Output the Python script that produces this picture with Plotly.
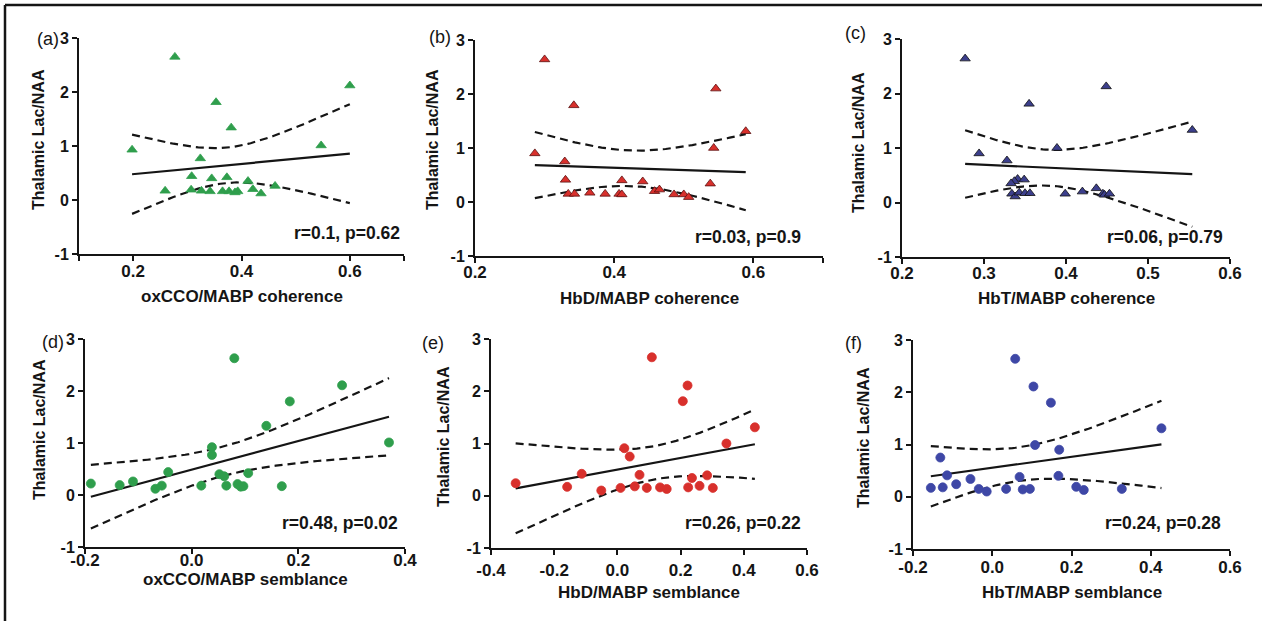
import numpy as np
import plotly.graph_objects as go

W, H = 1262, 621

# Values. y = Thalamic Lac/NAA, x = the index on each panel.
# (a) oxCCO/MABP coherence
a_x = [0.277, 0.600, 0.353, 0.381, 0.547, 0.198, 0.324, 0.308, 0.345, 0.373, 0.412,
       0.259, 0.307, 0.326, 0.342, 0.365, 0.377, 0.388, 0.393, 0.421, 0.436, 0.462]
a_y = [2.65, 2.12, 1.81, 1.34, 1.01, 0.93, 0.77, 0.44, 0.40, 0.42, 0.35,
       0.17, 0.19, 0.17, 0.16, 0.16, 0.16, 0.14, 0.16, 0.20, 0.12, 0.26]

# (b) HbD/MABP coherence
b_x = [0.300, 0.546, 0.342, 0.589, 0.543, 0.286, 0.329, 0.330, 0.411, 0.441, 0.538,
       0.334, 0.343, 0.365, 0.387, 0.407, 0.411, 0.458, 0.465, 0.486, 0.500, 0.507]
b_y = [2.64, 2.10, 1.79, 1.31, 1.00, 0.90, 0.75, 0.41, 0.40, 0.38, 0.34,
       0.15, 0.15, 0.17, 0.15, 0.15, 0.14, 0.20, 0.23, 0.14, 0.14, 0.09]

# (c) HbT/MABP coherence
c_x = [0.277, 0.449, 0.355, 0.554, 0.389, 0.294, 0.328, 0.341, 0.349, 0.337, 0.333,
       0.437, 0.420, 0.334, 0.338, 0.343, 0.350, 0.399, 0.445, 0.447, 0.453, 0.356]
c_y = [2.64, 2.13, 1.81, 1.33, 1.00, 0.90, 0.77, 0.43, 0.42, 0.39, 0.35,
       0.26, 0.20, 0.16, 0.11, 0.18, 0.17, 0.16, 0.16, 0.14, 0.16, 0.17]

# (d) oxCCO/MABP semblance
d_x = [0.080, 0.282, 0.184, 0.140, 0.370, 0.038, 0.038, -0.044, 0.106, 0.052, 0.061,
       -0.110, -0.189, -0.135, -0.056, 0.018, 0.065, 0.086, 0.092, 0.097, 0.169, -0.068]
d_y = [2.63, 2.11, 1.80, 1.33, 1.01, 0.92, 0.77, 0.44, 0.42, 0.40, 0.36,
       0.26, 0.22, 0.19, 0.18, 0.18, 0.18, 0.21, 0.16, 0.17, 0.17, 0.12]

# (e) HbD/MABP semblance
e_x = [0.109, 0.222, 0.207, 0.435, 0.345, 0.022, 0.039, -0.113, 0.070, 0.284, 0.236,
       -0.322, -0.159, -0.051, 0.010, 0.055, 0.093, 0.135, 0.156, 0.224, 0.260, 0.302]
e_y = [2.65, 2.11, 1.81, 1.31, 1.00, 0.91, 0.75, 0.42, 0.40, 0.39, 0.34,
       0.24, 0.17, 0.10, 0.15, 0.18, 0.15, 0.16, 0.13, 0.16, 0.19, 0.15]

# (f) HbT/MABP semblance
f_x = [0.058, 0.104, 0.148, 0.427, 0.108, 0.169, -0.131, -0.114, 0.069, 0.167, -0.055,
       -0.091, -0.155, -0.125, -0.034, -0.014, 0.035, 0.077, 0.095, 0.212, 0.231, 0.327]
f_y = [2.64, 2.11, 1.80, 1.31, 0.99, 0.90, 0.75, 0.41, 0.38, 0.40, 0.34,
       0.24, 0.17, 0.18, 0.15, 0.10, 0.15, 0.14, 0.15, 0.19, 0.13, 0.15]

y_ticks = [-1, 0, 1, 2, 3]
y_tick_text = ["-1", "0", "1", "2", "3"]

stats = ["r=0.1, p=0.62", "r=0.03, p=0.9", "r=0.06, p=0.79",
         "r=0.48, p=0.02", "r=0.26, p=0.22", "r=0.24, p=0.28"]
x_titles = ["oxCCO/MABP coherence", "HbD/MABP coherence", "HbT/MABP coherence",
            "oxCCO/MABP semblance", "HbD/MABP semblance", "HbT/MABP semblance"]
panel_labels = ["(a)", "(b)", "(c)", "(d)", "(e)", "(f)"]

GREEN, RED, NAVY, BLUE = "#2f9e4c", "#d8302c", "#3c3f8c", "#3e47a6"
FONT = "Liberation Sans, Arial, sans-serif"
INK = "#151515"
T_CRIT = 2.086  # t(0.975, df=20)


def px_x(p):
    return p / W


def px_y(p):
    return 1 - p / H


def bold(labels):
    return ["<b>%s</b>" % t if t else "" for t in labels]


# per panel: data, marker, axis range/ticks, pixel box (x0, x1, y_top, y_bottom),
# label pos, stats pos, title pos, x tick label standoff
panels = [
    dict(x=a_x, y=a_y, sym="triangle-up", size=9, color=GREEN, outline=GREEN,
         rng=[0.1, 0.7], tv=[0.1, 0.2, 0.4, 0.6, 0.7], tt=["", "0.2", "0.4", "0.6", ""],
         box=(79, 404, 38, 254), lab=(35, 39), st=(402, 233), xt=296, yt=(38, 140), so=-4),
    dict(x=b_x, y=b_y, sym="triangle-up", size=9, color=RED, outline="#5a1010",
         rng=[0.2, 0.7], tv=[0.2, 0.4, 0.6, 0.7], tt=["0.2", "0.4", "0.6", ""],
         box=(475, 823, 40, 256), lab=(427, 37), st=(803, 237), xt=298, yt=(432, 140), so=-5),
    dict(x=c_x, y=c_y, sym="triangle-up", size=9, color=NAVY, outline="#111111",
         rng=[0.2, 0.6], tv=[0.2, 0.3, 0.4, 0.5, 0.6], tt=["0.2", "0.3", "0.4", "0.5", "0.6"],
         box=(902, 1230, 39, 257), lab=(843, 33), st=(1225, 237), xt=298, yt=(858, 143), so=-5),
    dict(x=d_x, y=d_y, sym="circle", size=9, color=GREEN, outline=GREEN,
         rng=[-0.2, 0.4], tv=[-0.2, 0.0, 0.2, 0.4], tt=["-0.2", "0.0", "0.2", "0.4"],
         box=(85, 405, 339, 547), lab=(40, 342), st=(400, 523), xt=579, yt=(39, 430), so=-8),
    dict(x=e_x, y=e_y, sym="circle", size=9, color=RED, outline=RED,
         rng=[-0.4, 0.6], tv=[-0.4, -0.2, 0.0, 0.2, 0.4, 0.6],
         tt=["-0.4", "-0.2", "0.0", "0.2", "0.4", "0.6"],
         box=(491, 807, 339, 548), lab=(420, 343), st=(803, 523), xt=592, yt=(443, 437), so=1),
    dict(x=f_x, y=f_y, sym="circle", size=9, color=BLUE, outline=BLUE,
         rng=[-0.2, 0.6], tv=[-0.2, 0.0, 0.2, 0.4, 0.6],
         tt=["-0.2", "0.0", "0.2", "0.4", "0.6"],
         box=(913, 1230, 340, 549), lab=(843, 343), st=(1223, 523), xt=592, yt=(863, 438), so=-3),
]

fig = go.Figure()
annotations = []
layout_axes = {}

for i, p in enumerate(panels, start=1):
    sx = "" if i == 1 else str(i)
    xref, yref = "x" + sx, "y" + sx
    x = np.array(p["x"])
    y = np.array(p["y"])

    # Linear fit with 95% confidence band
    n = len(x)
    slope, intercept = np.polyfit(x, y, 1)
    resid = y - (slope * x + intercept)
    s = np.sqrt(np.sum(resid ** 2) / (n - 2))
    sxx = np.sum((x - x.mean()) ** 2)
    xs = np.linspace(x.min(), x.max(), 80)
    fit = slope * xs + intercept
    half = T_CRIT * s * np.sqrt(1 / n + (xs - x.mean()) ** 2 / sxx)

    for band in (fit + half, fit - half):
        fig.add_trace(go.Scatter(x=xs, y=band, mode="lines", xaxis=xref, yaxis=yref,
                                 line=dict(color=INK, width=2.2, dash="8px,5px"),
                                 hoverinfo="skip", showlegend=False))
    fig.add_trace(go.Scatter(x=xs, y=fit, mode="lines", xaxis=xref, yaxis=yref,
                             line=dict(color=INK, width=2.2),
                             hoverinfo="skip", showlegend=False))
    fig.add_trace(go.Scatter(x=x, y=y, mode="markers", xaxis=xref, yaxis=yref,
                             marker=dict(symbol=p["sym"], size=p["size"], color=p["color"],
                                         line=dict(color=p["outline"], width=0.8)),
                             showlegend=False))

    x0, x1, yt, yb = p["box"]
    layout_axes["xaxis" + sx] = dict(
        domain=[px_x(x0), px_x(x1)], anchor=yref, range=p["rng"],
        tickvals=p["tv"], ticktext=bold(p["tt"]), showgrid=False, zeroline=False,
        showline=True, linecolor=INK, linewidth=2, ticks="outside", ticklen=5,
        tickwidth=2, tickcolor=INK, tickfont=dict(family=FONT, size=17, color=INK),
        automargin=False, ticklabelstandoff=p["so"],
    )
    layout_axes["yaxis" + sx] = dict(
        domain=[px_y(yb), px_y(yt)], anchor=xref, range=[-1, 3],
        tickvals=y_ticks, ticktext=bold(y_tick_text), showgrid=False, zeroline=False,
        showline=True, linecolor=INK, linewidth=2, ticks="outside", ticklen=5,
        tickwidth=2, tickcolor=INK, tickfont=dict(family=FONT, size=16, color=INK),
        automargin=False,
    )

    # Texts
    annotations.append(dict(
        x=px_x((x0 + x1) / 2), y=px_y(p["xt"]), xref="paper", yref="paper",
        text="<b>%s</b>" % x_titles[i - 1], showarrow=False,
        xanchor="center", yanchor="middle",
        font=dict(family=FONT, size=17, color=INK)))
    annotations.append(dict(
        x=px_x(p["yt"][0]), y=px_y(p["yt"][1]), xref="paper", yref="paper",
        text="<b>Thalamic Lac/NAA</b>", textangle=-90, showarrow=False,
        xanchor="center", yanchor="middle",
        font=dict(family=FONT, size=16, color=INK)))
    annotations.append(dict(
        x=px_x(p["st"][0]), y=px_y(p["st"][1]), xref="paper", yref="paper",
        text="<b>%s</b>" % stats[i - 1], showarrow=False,
        xanchor="right", yanchor="middle",
        font=dict(family=FONT, size=17.5, color=INK)))
    annotations.append(dict(
        x=px_x(p["lab"][0]), y=px_y(p["lab"][1]), xref="paper", yref="paper",
        text=panel_labels[i - 1], showarrow=False, xanchor="left", yanchor="middle",
        font=dict(family=FONT, size=18, color=INK)))

fig.update_layout(
    width=W, height=H,
    template="none",
    margin=dict(l=0, r=0, t=0, b=0, pad=0, autoexpand=False),
    paper_bgcolor="white", plot_bgcolor="white",
    showlegend=False,
    annotations=annotations,
    shapes=[
        # frame round the figure (top and left edges show)
        dict(type="line", xref="paper", yref="paper", x0=px_x(5), x1=1,
             y0=px_y(5), y1=px_y(5), line=dict(color=INK, width=2.5)),
        dict(type="line", xref="paper", yref="paper", x0=px_x(5), x1=px_x(5),
             y0=px_y(5), y1=0, line=dict(color=INK, width=2.5)),
    ],
    **layout_axes,
)

# page has a default body margin; drop it so the figure sits at the window's corner
fig.write_html(
    "out.html",
    config={"displayModeBar": False},
    post_script="document.body.style.margin='0';document.body.style.overflow='hidden';",
)
